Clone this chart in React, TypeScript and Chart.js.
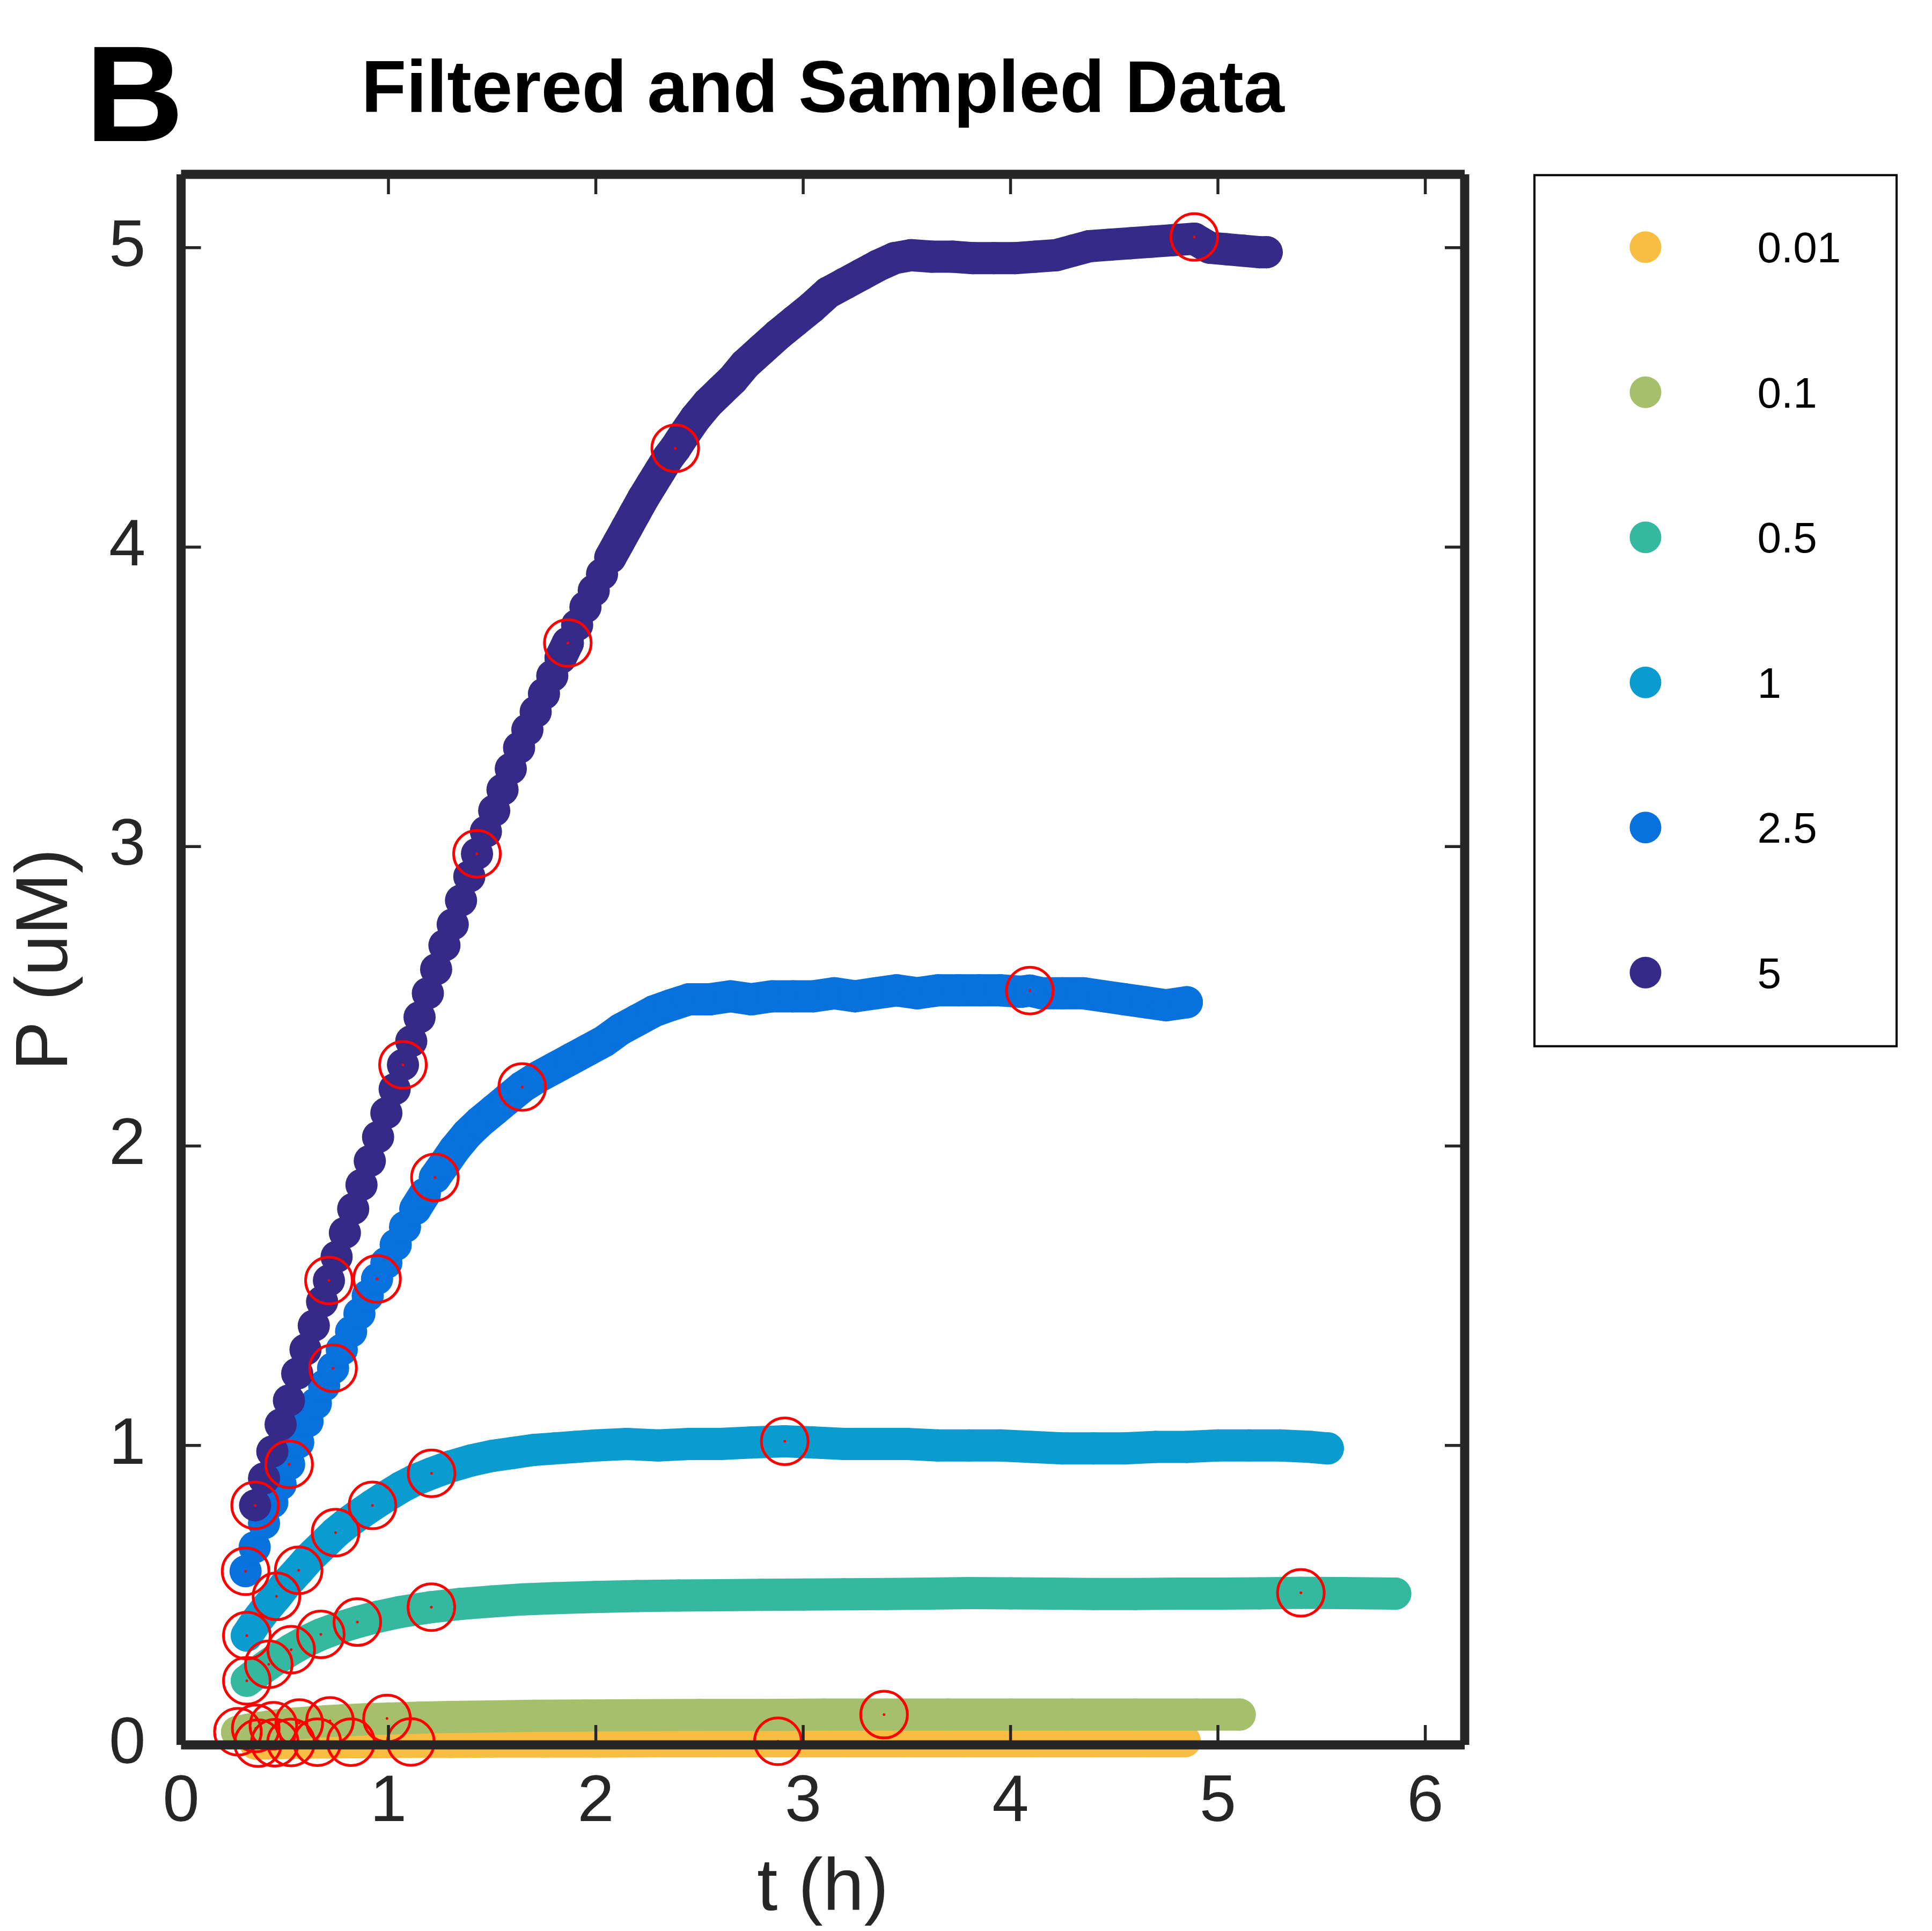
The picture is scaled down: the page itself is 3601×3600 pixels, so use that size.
import React, { useEffect, useRef } from "react";
import { Chart, registerables } from "chart.js";

Chart.register(...registerables);

const FONT = '"Liberation Sans", Arial, Helvetica, sans-serif';

// ---------- content ----------
const chartTitle = "Filtered and Sampled Data";
const panelLetter = "B";
const xAxisLabel = "t (h)";
const yAxisLabel = "P (uM)";
const seriesLabels = ["0.01", "0.1", "0.5", "1", "2.5", "5"];
const seriesColors = ["#F9BD41", "#A6BF6B", "#34B8A0", "#0A9CCE", "#0771DE", "#352A87"];
const xTickValues = [0, 1, 2, 3, 4, 5, 6];
const yTickValues = [0, 1, 2, 3, 4, 5];
const xRange = [0, 6.19];
const yRange = [0, 5.245];

// ---------- filtered curves: [t (h), P (uM)] ----------
const curveP001 = [
  [0.36, 0.004], [0.42, 0.005], [0.48, 0.006], [0.55, 0.007], [0.63, 0.008], [0.72, 0.008],
  [0.82, 0.009], [0.95, 0.009], [1.1, 0.01], [1.3, 0.01], [1.5, 0.011], [1.75, 0.011],
  [2.0, 0.011], [2.3, 0.012], [2.6, 0.012], [2.9, 0.012], [3.2, 0.012], [3.5, 0.012],
  [3.8, 0.012], [4.1, 0.012], [4.4, 0.012], [4.65, 0.012], [4.84, 0.012],
];
const curveP01 = [
  [0.27, 0.043], [0.32, 0.05], [0.37, 0.056], [0.42, 0.061], [0.48, 0.066], [0.55, 0.071],
  [0.62, 0.075], [0.7, 0.079], [0.78, 0.082], [0.88, 0.085], [1.0, 0.088], [1.15, 0.091],
  [1.3, 0.093], [1.5, 0.095], [1.7, 0.097], [1.95, 0.098], [2.2, 0.099], [2.5, 0.1],
  [2.8, 0.1], [3.1, 0.101], [3.4, 0.101], [3.7, 0.101], [4.0, 0.101], [4.3, 0.101],
  [4.6, 0.101], [4.9, 0.101], [5.105, 0.101],
];
const curveP05 = [
  [0.317, 0.214], [0.37, 0.243], [0.423, 0.269], [0.475, 0.294], [0.531, 0.318], [0.6, 0.345],
  [0.674, 0.369], [0.76, 0.391], [0.85, 0.41], [0.95, 0.428], [1.05, 0.443], [1.207, 0.46],
  [1.35, 0.471], [1.5, 0.479], [1.65, 0.486], [1.8, 0.49], [2.0, 0.494], [2.2, 0.497],
  [2.4, 0.499], [2.6, 0.5], [2.8, 0.501], [3.0, 0.502], [3.2, 0.503], [3.4, 0.504],
  [3.6, 0.505], [3.8, 0.507], [4.0, 0.506], [4.2, 0.505], [4.4, 0.504], [4.6, 0.504],
  [4.8, 0.505], [5.0, 0.505], [5.2, 0.506], [5.4, 0.508], [5.6, 0.507], [5.855, 0.505],
];
const curveP1 = [
  [0.317, 0.365], [0.36, 0.41], [0.41, 0.455], [0.46, 0.496], [0.51, 0.54], [0.567, 0.583],
  [0.62, 0.625], [0.68, 0.665], [0.745, 0.709], [0.8, 0.74], [0.86, 0.77], [0.923, 0.8],
  [0.99, 0.83], [1.06, 0.86], [1.13, 0.885], [1.208, 0.907], [1.3, 0.93], [1.4, 0.95],
  [1.5, 0.965], [1.6, 0.975], [1.7, 0.985], [1.8, 0.99], [1.9, 0.995], [2.0, 1.0],
  [2.15, 1.005], [2.3, 1.0], [2.45, 1.005], [2.6, 1.005], [2.75, 1.01], [2.911, 1.014],
  [3.05, 1.01], [3.2, 1.005], [3.35, 1.005], [3.5, 1.005], [3.65, 1.0], [3.8, 1.0],
  [3.95, 1.0], [4.1, 0.995], [4.25, 0.99], [4.4, 0.99], [4.55, 0.99], [4.7, 0.995],
  [4.85, 0.995], [5.0, 1.0], [5.15, 1.0], [5.3, 1.0], [5.45, 0.995], [5.53, 0.99],
];
const curveP25 = [
  [0.311, 0.58], [0.355, 0.66], [0.4, 0.74], [0.44, 0.81], [0.48, 0.87], [0.521, 0.937],
  [0.565, 1.01], [0.61, 1.08], [0.65, 1.14], [0.69, 1.2], [0.733, 1.258], [0.775, 1.32],
  [0.82, 1.38], [0.86, 1.44], [0.9, 1.5], [0.945, 1.556], [0.99, 1.61], [1.035, 1.67],
  [1.08, 1.73], [1.13, 1.79], [1.175, 1.84], [1.224, 1.895], [1.27, 1.94], [1.32, 1.99],
  [1.38, 2.04], [1.44, 2.08], [1.51, 2.12], [1.58, 2.16], [1.645, 2.197], [1.72, 2.23],
  [1.8, 2.26], [1.88, 2.29], [1.96, 2.32], [2.04, 2.35], [2.12, 2.39], [2.2, 2.42],
  [2.28, 2.45], [2.36, 2.47], [2.45, 2.49], [2.55, 2.49], [2.65, 2.5], [2.75, 2.49],
  [2.85, 2.5], [2.95, 2.5], [3.05, 2.5], [3.15, 2.51], [3.25, 2.5], [3.35, 2.51],
  [3.45, 2.52], [3.55, 2.51], [3.65, 2.52], [3.75, 2.52], [3.85, 2.52], [3.95, 2.52],
  [4.05, 2.515], [4.093, 2.519], [4.15, 2.51], [4.25, 2.51], [4.35, 2.51], [4.45, 2.5],
  [4.55, 2.49], [4.65, 2.48], [4.75, 2.47], [4.85, 2.48],
];
const curveP5 = [
  [0.357, 0.8], [0.4, 0.89], [0.44, 0.98], [0.48, 1.07], [0.52, 1.15], [0.56, 1.24],
  [0.6, 1.32], [0.64, 1.4], [0.68, 1.48], [0.713, 1.551], [0.75, 1.63], [0.79, 1.71],
  [0.83, 1.79], [0.87, 1.87], [0.91, 1.95], [0.95, 2.03], [0.99, 2.11], [1.03, 2.19],
  [1.07, 2.271], [1.11, 2.35], [1.15, 2.43], [1.19, 2.51], [1.23, 2.59], [1.27, 2.67],
  [1.31, 2.74], [1.35, 2.82], [1.39, 2.9], [1.427, 2.976], [1.47, 3.05], [1.51, 3.12],
  [1.55, 3.19], [1.59, 3.26], [1.63, 3.33], [1.67, 3.39], [1.71, 3.45], [1.75, 3.51],
  [1.79, 3.57], [1.83, 3.63], [1.865, 3.68], [1.91, 3.74], [1.95, 3.8], [1.99, 3.855],
  [2.03, 3.91], [2.07, 3.965], [2.11, 4.015], [2.15, 4.065], [2.19, 4.115], [2.23, 4.165],
  [2.27, 4.21], [2.31, 4.255], [2.35, 4.3], [2.383, 4.33], [2.43, 4.38], [2.48, 4.43],
  [2.54, 4.48], [2.6, 4.52], [2.66, 4.56], [2.72, 4.61], [2.8, 4.66], [2.88, 4.71],
  [2.96, 4.755], [3.04, 4.8], [3.12, 4.85], [3.2, 4.88], [3.28, 4.91], [3.36, 4.94],
  [3.44, 4.965], [3.52, 4.975], [3.62, 4.97], [3.72, 4.97], [3.82, 4.965], [3.92, 4.965],
  [4.02, 4.965], [4.12, 4.97], [4.22, 4.975], [4.3, 4.99], [4.38, 5.005], [4.48, 5.01],
  [4.58, 5.015], [4.68, 5.02], [4.78, 5.025], [4.886, 5.03], [4.96, 5.0], [5.04, 4.995],
  [5.12, 4.99], [5.2, 4.985], [5.235, 4.985],
];

// ---------- sampled points: [t (h), P (uM)] ----------
const sampledP001 = [[0.371, 0.006], [0.452, 0.007], [0.53, 0.008], [0.657, 0.009], [0.819, 0.009], [1.108, 0.01], [2.878, 0.012]];
const sampledP01 = [[0.274, 0.044], [0.36, 0.055], [0.445, 0.064], [0.57, 0.073], [0.718, 0.08], [0.993, 0.088], [3.39, 0.101]];
const sampledP05 = [[0.317, 0.214], [0.423, 0.269], [0.531, 0.318], [0.674, 0.369], [0.85, 0.41], [1.207, 0.46], [5.4, 0.508]];
const sampledP1 = [[0.317, 0.365], [0.46, 0.496], [0.567, 0.583], [0.745, 0.709], [0.923, 0.8], [1.208, 0.907], [2.911, 1.014]];
const sampledP25 = [[0.311, 0.58], [0.521, 0.937], [0.733, 1.258], [0.945, 1.556], [1.224, 1.895], [1.645, 2.197], [4.093, 2.519]];
const sampledP5 = [[0.357, 0.8], [0.713, 1.551], [1.07, 2.271], [1.427, 2.976], [1.865, 3.68], [2.383, 4.33], [4.886, 5.036]];

// ---------- layout / style ----------
const W = 3601;
const H = 3600;
const AREA = { left: 337.5, top: 325, right: 2730, bottom: 3253 };
const AXIS_COLOR = "#262626";
const FRAME_W = 17;
const TICK_W = 5.5;
const TICK_LEN = 37;
const MARKER_R = 30;
const BAND_W = 60;
const STEEP_W = 30;
const RING_R = 43.5;
const RING_W = 5;

const curves = [curveP001, curveP01, curveP05, curveP1, curveP25, curveP5];
const samples = [sampledP001, sampledP01, sampledP05, sampledP1, sampledP25, sampledP5];

const toXY = (arr: number[][]) => arr.map(([x, y]) => ({ x, y }));

const decorPlugin = {
  id: "decor",
  afterDatasetsDraw(chart: any) {
    const { ctx, chartArea: a, scales } = chart;
    const seg = (x1: number, y1: number, x2: number, y2: number) => {
      ctx.beginPath();
      ctx.moveTo(x1, y1);
      ctx.lineTo(x2, y2);
      ctx.stroke();
    };
    ctx.save();
    ctx.strokeStyle = AXIS_COLOR;
    ctx.lineCap = "butt";
    ctx.lineWidth = TICK_W;
    for (const v of xTickValues) {
      if (v === xRange[0]) continue;
      const px = scales.x.getPixelForValue(v);
      seg(px, a.bottom, px, a.bottom - TICK_LEN);
      seg(px, a.top, px, a.top + TICK_LEN);
    }
    for (const v of yTickValues) {
      if (v === yRange[0]) continue;
      const py = scales.y.getPixelForValue(v);
      seg(a.left, py, a.left + TICK_LEN, py);
      seg(a.right, py, a.right - TICK_LEN, py);
    }
    ctx.lineWidth = FRAME_W;
    seg(a.left, a.bottom, a.right, a.bottom);
    seg(a.left, a.top, a.left, a.bottom);
    seg(a.left, a.top, a.right, a.top);
    seg(a.right, a.top, a.right, a.bottom);
    ctx.restore();
  },
  afterDraw(chart: any) {
    const { ctx, chartArea: a } = chart;
    ctx.save();
    ctx.fillStyle = "#000";
    ctx.textBaseline = "alphabetic";
    // panel letter
    ctx.font = `bold 254px ${FONT}`;
    ctx.textAlign = "left";
    ctx.fillText(panelLetter, 159, 263);
    // title
    ctx.font = `bold 137px ${FONT}`;
    ctx.textAlign = "center";
    ctx.fillText(chartTitle, (a.left + a.right) / 2, 209);
    // legend
    const box = { x: 2860, y: 326.5, w: 675, h: 1624 };
    ctx.lineWidth = 4;
    ctx.strokeStyle = "#000";
    ctx.strokeRect(box.x, box.y, box.w, box.h);
    ctx.font = `80px ${FONT}`;
    ctx.textAlign = "left";
    seriesLabels.forEach((lab, i) => {
      const cy = 460.7 + i * 270.5;
      ctx.beginPath();
      ctx.arc(3067, cy, 29.5, 0, Math.PI * 2);
      ctx.fillStyle = seriesColors[i];
      ctx.fill();
      ctx.fillStyle = "#000";
      ctx.fillText(lab, 3275.5, cy + 28.5);
    });
    ctx.restore();
  },
};

export default function App() {
  const ref = useRef<HTMLCanvasElement | null>(null);

  useEffect(() => {
    const canvas = ref.current;
    if (!canvas) return;

    const seriesDatasets = curves.map((c, i) => ({
      type: "scatter",
      label: seriesLabels[i],
      data: toXY(c),
      showLine: true,
      borderColor: seriesColors[i],
      backgroundColor: seriesColors[i],
      borderWidth: BAND_W,
      borderCapStyle: "round",
      borderJoinStyle: "round",
      segment: {
        borderWidth: (sc: any) => (Math.abs(sc.p1.y - sc.p0.y) > 30 ? STEEP_W : BAND_W),
      },
      pointRadius: MARKER_R,
      pointHoverRadius: MARKER_R,
      pointBorderWidth: 0,
      pointBackgroundColor: seriesColors[i],
      clip: false,
      order: 7 - i,
    }));

    const allSamples = samples.flatMap((s) => toXY(s));

    const chart = new Chart(canvas, {
      type: "scatter",
      data: {
        datasets: [
          ...seriesDatasets,
          {
            type: "scatter",
            label: "sampled",
            data: allSamples,
            pointRadius: RING_R,
            pointHoverRadius: RING_R,
            pointBorderWidth: RING_W,
            pointBorderColor: "#FF0000",
            pointBackgroundColor: "rgba(0,0,0,0)",
            showLine: false,
            clip: false,
            order: 1,
          },
          {
            type: "scatter",
            label: "sampled centre",
            data: allSamples,
            pointRadius: 2.5,
            pointHoverRadius: 2.5,
            pointBorderWidth: 0,
            pointBackgroundColor: "#FF0000",
            showLine: false,
            clip: false,
            order: 0,
          },
        ] as any,
      },
      options: {
        responsive: false,
        maintainAspectRatio: false,
        devicePixelRatio: 1,
        animation: false,
        events: [],
        layout: {
          padding: { left: 0, top: AREA.top, right: W - AREA.right, bottom: 0 },
        },
        plugins: {
          legend: { display: false },
          tooltip: { enabled: false },
          title: { display: false },
        },
        scales: {
          x: {
            type: "linear",
            position: "bottom",
            min: xRange[0],
            max: xRange[1],
            afterBuildTicks: (s: any) => {
              s.ticks = xTickValues.map((v) => ({ value: v }));
            },
            afterFit: (s: any) => {
              s.height = H - AREA.bottom;
            },
            grid: { display: false, drawTicks: false },
            border: { display: false },
            ticks: {
              color: AXIS_COLOR,
              font: { family: FONT, size: 123, lineHeight: 1.2 },
              padding: 34.6,
              maxRotation: 0,
              autoSkip: false,
            },
            title: {
              display: true,
              text: xAxisLabel,
              color: AXIS_COLOR,
              font: { family: FONT, size: 138, lineHeight: 1 },
              padding: { top: 0, bottom: 7.8 },
            },
          },
          y: {
            type: "linear",
            position: "left",
            min: yRange[0],
            max: yRange[1],
            afterBuildTicks: (s: any) => {
              s.ticks = yTickValues.map((v) => ({ value: v }));
            },
            afterFit: (s: any) => {
              s.width = AREA.left;
            },
            grid: { display: false, drawTicks: false },
            border: { display: false },
            ticks: {
              color: AXIS_COLOR,
              font: { family: FONT, size: 123, lineHeight: 1.2 },
              padding: 66,
              autoSkip: false,
            },
            title: {
              display: true,
              text: yAxisLabel,
              color: AXIS_COLOR,
              font: { family: FONT, size: 138, lineHeight: 1 },
              padding: { top: 17.5, bottom: 0 },
            },
          },
        },
      } as any,
      plugins: [decorPlugin],
    });

    return () => chart.destroy();
  }, []);

  return (
    <div style={{ position: "absolute", left: 0, top: 0, width: W, height: H, background: "#fff" }}>
      <canvas ref={ref} width={W} height={H} style={{ display: "block", width: W, height: H }} />
    </div>
  );
}
